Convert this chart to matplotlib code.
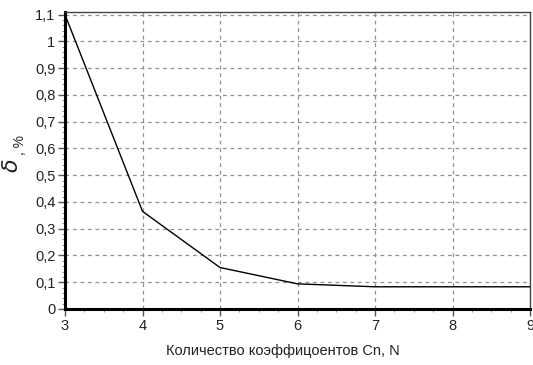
import numpy as np
import matplotlib.pyplot as plt
from matplotlib.ticker import MultipleLocator, FuncFormatter

# Погрешность в зависимости от числа коэффициентов
n_coef = [3, 4, 5, 6, 7, 8, 9]
delta = [1.1, 0.365, 0.155, 0.094, 0.083, 0.083, 0.083]

x_ticks = [3, 4, 5, 6, 7, 8, 9]
y_ticks = [0, 0.1, 0.2, 0.3, 0.4, 0.5, 0.6, 0.7, 0.8, 0.9, 1.0, 1.1]

plt.rcParams['font.family'] = ['Liberation Sans', 'DejaVu Sans']

fig = plt.figure(figsize=(5.33, 3.65), dpi=100)
ax = fig.add_axes([65 / 533, 56 / 365, 465 / 533, 297 / 365])

ax.plot(n_coef, delta, color='black', linewidth=1.0, zorder=3)

ax.set_xlim(3, 9)
ax.set_ylim(0, 1.11)
ax.set_xticks(x_ticks)
ax.set_yticks(y_ticks)
ax.xaxis.set_minor_locator(MultipleLocator(0.25))
ax.yaxis.set_minor_locator(MultipleLocator(0.02))

comma = FuncFormatter(lambda v, pos: ('%g' % round(v, 2)).replace('.', ','))
ax.yaxis.set_major_formatter(comma)
ax.xaxis.set_major_formatter(comma)

ax.grid(True, which='major', color='#909090', linestyle=(0, (3, 3)), linewidth=0.9)
ax.tick_params(which='major', direction='out', length=5, width=1, labelsize=10.5,
               colors='#555555', labelcolor='#222222', pad=2)
ax.tick_params(which='minor', direction='out', length=2, width=0.7, colors='#888888')

for side in ('left', 'bottom'):
    ax.spines[side].set_linewidth(2.2)
    ax.spines[side].set_color('black')
for side in ('top', 'right'):
    ax.spines[side].set_linewidth(1.0)
    ax.spines[side].set_color('#444444')

fig.text(283 / 533, 14 / 365, 'Количество коэффицоентов Cn, N', ha='center', va='center',
         fontsize=10.5, color='#222222')
fig.text(13 / 533, 1 - 166 / 365, r'$\delta$', rotation=90, ha='center', va='center',
         fontsize=16, color='#222222')
fig.text(20 / 533, 1 - 145 / 365, ', %', rotation=90, ha='center', va='center',
         fontsize=10, color='#222222')

fig.savefig('out.png', dpi=100)
